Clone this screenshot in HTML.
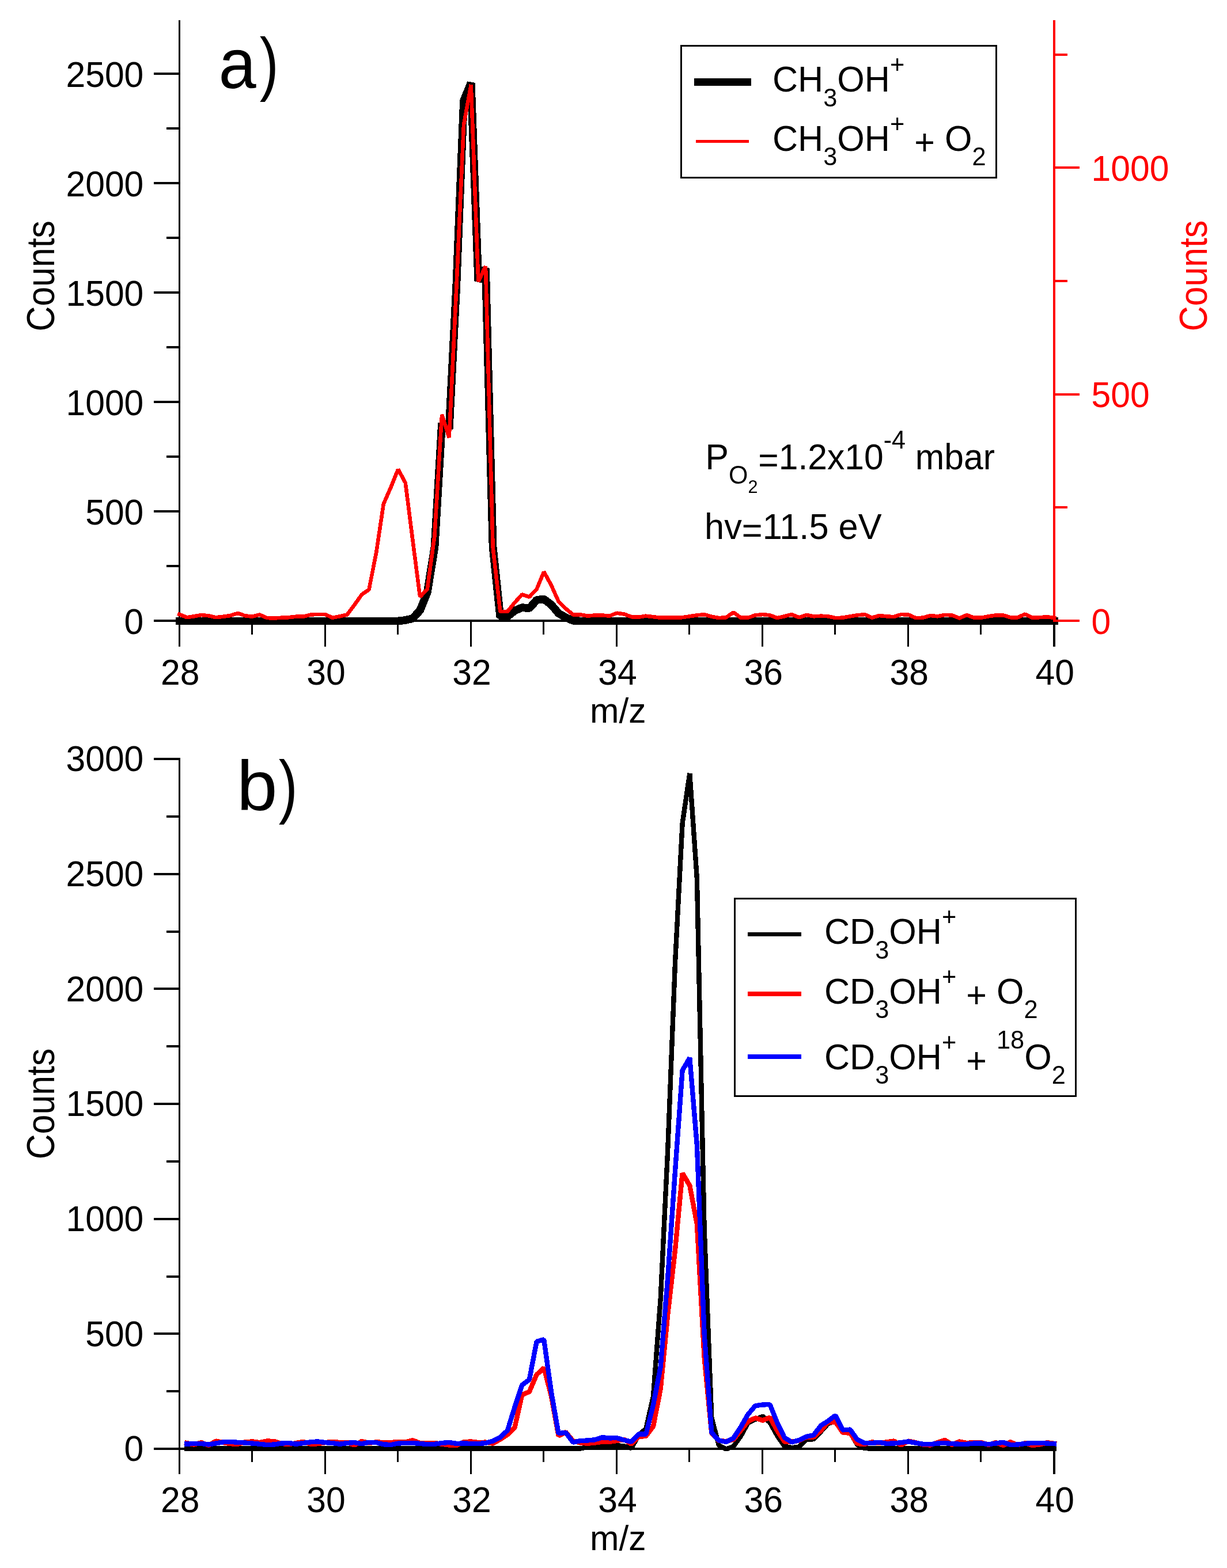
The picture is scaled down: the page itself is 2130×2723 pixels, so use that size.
<!DOCTYPE html>
<html lang="en">
<head>
<meta charset="utf-8">
<title>Mass spectra: methanol cation + O2</title>
<style>
html,body{margin:0;padding:0;background:#fff;}
body{width:2130px;height:2723px;overflow:hidden;}
svg{display:block;font-family:"Liberation Sans", Arial, Helvetica, sans-serif;}
</style>
</head>
<body>
<svg width="2130" height="2723" viewBox="0 0 2130 2723">
<rect x="0" y="0" width="2130" height="2723" fill="#ffffff"/>
<g shape-rendering="crispEdges">
<rect x="310" y="35" width="3" height="1088" fill="#000"/>
<rect x="312" y="1076" width="1518" height="4" fill="#000"/>
<rect x="267" y="1076" width="45" height="4" fill="#000"/>
<rect x="289" y="981" width="23" height="4" fill="#000"/>
<rect x="267" y="886" width="45" height="4" fill="#000"/>
<rect x="289" y="791" width="23" height="4" fill="#000"/>
<rect x="267" y="696" width="45" height="4" fill="#000"/>
<rect x="289" y="601" width="23" height="4" fill="#000"/>
<rect x="267" y="506" width="45" height="4" fill="#000"/>
<rect x="289" y="411" width="23" height="4" fill="#000"/>
<rect x="267" y="316" width="45" height="4" fill="#000"/>
<rect x="289" y="221" width="23" height="4" fill="#000"/>
<rect x="267" y="126" width="45" height="4" fill="#000"/>
<rect x="310" y="1078" width="3" height="45" fill="#000"/>
<rect x="436" y="1078" width="3" height="24" fill="#000"/>
<rect x="563" y="1078" width="3" height="45" fill="#000"/>
<rect x="689" y="1078" width="3" height="24" fill="#000"/>
<rect x="816" y="1078" width="3" height="45" fill="#000"/>
<rect x="942" y="1078" width="3" height="24" fill="#000"/>
<rect x="1069" y="1078" width="3" height="45" fill="#000"/>
<rect x="1195" y="1078" width="3" height="24" fill="#000"/>
<rect x="1322" y="1078" width="3" height="45" fill="#000"/>
<rect x="1448" y="1078" width="3" height="24" fill="#000"/>
<rect x="1575" y="1078" width="3" height="45" fill="#000"/>
<rect x="1701" y="1078" width="3" height="24" fill="#000"/>
<rect x="1828" y="1078" width="4" height="45" fill="#000"/>
<rect x="310" y="1316" width="3" height="1244" fill="#000"/>
<rect x="312" y="2514" width="1518" height="4" fill="#000"/>
<rect x="267" y="2514" width="45" height="4" fill="#000"/>
<rect x="289" y="2414" width="23" height="4" fill="#000"/>
<rect x="267" y="2314" width="45" height="4" fill="#000"/>
<rect x="289" y="2215" width="23" height="4" fill="#000"/>
<rect x="267" y="2115" width="45" height="4" fill="#000"/>
<rect x="289" y="2015" width="23" height="4" fill="#000"/>
<rect x="267" y="1915" width="45" height="4" fill="#000"/>
<rect x="289" y="1815" width="23" height="4" fill="#000"/>
<rect x="267" y="1715" width="45" height="4" fill="#000"/>
<rect x="289" y="1616" width="23" height="4" fill="#000"/>
<rect x="267" y="1516" width="45" height="4" fill="#000"/>
<rect x="289" y="1416" width="23" height="4" fill="#000"/>
<rect x="267" y="1316" width="45" height="4" fill="#000"/>
<rect x="310" y="2516" width="3" height="44" fill="#000"/>
<rect x="436" y="2516" width="3" height="23" fill="#000"/>
<rect x="563" y="2516" width="3" height="44" fill="#000"/>
<rect x="689" y="2516" width="3" height="23" fill="#000"/>
<rect x="816" y="2516" width="3" height="44" fill="#000"/>
<rect x="942" y="2516" width="3" height="23" fill="#000"/>
<rect x="1069" y="2516" width="3" height="44" fill="#000"/>
<rect x="1195" y="2516" width="3" height="23" fill="#000"/>
<rect x="1322" y="2516" width="3" height="44" fill="#000"/>
<rect x="1448" y="2516" width="3" height="23" fill="#000"/>
<rect x="1575" y="2516" width="3" height="44" fill="#000"/>
<rect x="1701" y="2516" width="3" height="23" fill="#000"/>
<rect x="1828" y="2516" width="4" height="44" fill="#000"/>
</g>
<text transform="translate(249.30,1100.50) scale(1,1.05)" font-size="60.60" text-anchor="end" fill="#000">0</text>
<text transform="translate(249.30,910.50) scale(1,1.05)" font-size="60.60" text-anchor="end" fill="#000">500</text>
<text transform="translate(249.30,720.50) scale(1,1.05)" font-size="60.60" text-anchor="end" fill="#000">1000</text>
<text transform="translate(249.30,530.50) scale(1,1.05)" font-size="60.60" text-anchor="end" fill="#000">1500</text>
<text transform="translate(249.30,340.50) scale(1,1.05)" font-size="60.60" text-anchor="end" fill="#000">2000</text>
<text transform="translate(249.30,150.50) scale(1,1.05)" font-size="60.60" text-anchor="end" fill="#000">2500</text>
<text transform="translate(312.80,1188.60) scale(1,1.05)" font-size="60.60" text-anchor="middle" fill="#000">28</text>
<text transform="translate(565.88,1188.60) scale(1,1.05)" font-size="60.60" text-anchor="middle" fill="#000">30</text>
<text transform="translate(818.97,1188.60) scale(1,1.05)" font-size="60.60" text-anchor="middle" fill="#000">32</text>
<text transform="translate(1072.05,1188.60) scale(1,1.05)" font-size="60.60" text-anchor="middle" fill="#000">34</text>
<text transform="translate(1325.13,1188.60) scale(1,1.05)" font-size="60.60" text-anchor="middle" fill="#000">36</text>
<text transform="translate(1578.22,1188.60) scale(1,1.05)" font-size="60.60" text-anchor="middle" fill="#000">38</text>
<text transform="translate(1831.30,1188.60) scale(1,1.05)" font-size="60.60" text-anchor="middle" fill="#000">40</text>
<text transform="translate(1072.80,1255.40) scale(1,1.02)" font-size="60.60" text-anchor="middle" fill="#000">m/z</text>
<text transform="translate(94.00,479.30) rotate(-90) scale(1,1.12)" font-size="60.80" text-anchor="middle" fill="#000">Counts</text>
<polyline points="311.5,1078.5 324.2,1078.5 336.8,1078.5 349.5,1078.5 362.1,1078.5 374.8,1078.5 387.4,1078.5 400.1,1078.5 412.7,1078.5 425.4,1078.5 438.0,1078.5 450.7,1078.5 463.3,1078.5 476.0,1078.5 488.7,1078.5 501.3,1078.5 514.0,1078.5 526.6,1078.5 539.3,1078.5 551.9,1078.5 564.6,1078.5 577.2,1078.5 589.9,1078.5 602.5,1078.5 615.2,1078.5 627.9,1078.5 640.5,1078.5 653.2,1078.5 665.8,1078.5 678.5,1078.5 691.1,1078.5 703.8,1077.0 716.4,1074.0 729.1,1060.0 741.7,1029.0 754.4,951.0 767.1,735.0 779.7,745.0 792.4,494.0 805.0,175.0 817.7,144.0 830.3,488.0 843.0,466.0 855.6,950.0 868.3,1071.0 880.9,1070.6 893.6,1060.5 906.2,1055.0 918.9,1056.4 931.6,1042.0 944.2,1040.5 956.9,1050.0 969.5,1065.0 982.2,1072.4 994.8,1077.7 1007.5,1078.5 1020.1,1078.5 1032.8,1078.5 1045.4,1078.5 1058.1,1078.5 1070.8,1078.5 1083.4,1078.5 1096.1,1078.5 1108.7,1078.5 1121.4,1078.5 1134.0,1078.5 1146.7,1078.5 1159.3,1078.5 1172.0,1078.5 1184.6,1078.5 1197.3,1078.5 1209.9,1078.5 1222.6,1078.5 1235.3,1078.5 1247.9,1078.5 1260.6,1078.5 1273.2,1078.5 1285.9,1078.5 1298.5,1078.5 1311.2,1078.5 1323.8,1078.5 1336.5,1078.5 1349.1,1078.5 1361.8,1078.5 1374.4,1078.5 1387.1,1078.5 1399.8,1078.5 1412.4,1078.5 1425.1,1078.5 1437.7,1078.5 1450.4,1078.5 1463.0,1078.5 1475.7,1078.5 1488.3,1078.5 1501.0,1078.5 1513.6,1078.5 1526.3,1078.5 1539.0,1078.5 1551.6,1078.5 1564.3,1078.5 1576.9,1078.5 1589.6,1078.5 1602.2,1078.5 1614.9,1078.5 1627.5,1078.5 1640.2,1078.5 1652.8,1078.5 1665.5,1078.5 1678.1,1078.5 1690.8,1078.5 1703.5,1078.5 1716.1,1078.5 1728.8,1078.5 1741.4,1078.5 1754.1,1078.5 1766.7,1078.5 1779.4,1078.5 1792.0,1078.5 1804.7,1078.5 1817.3,1078.5 1830.0,1078.5" fill="none" stroke="#000" stroke-width="13.8" stroke-linecap="square" stroke-linejoin="bevel" shape-rendering="crispEdges"/>
<polyline points="311.5,1066.9 324.2,1072.2 336.8,1070.3 349.5,1068.0 362.1,1069.3 374.8,1072.2 387.4,1070.8 400.1,1069.0 412.7,1065.0 425.4,1069.3 438.0,1070.7 450.7,1067.5 463.3,1073.1 476.0,1073.5 488.7,1072.7 501.3,1072.2 514.0,1070.7 526.6,1070.8 539.3,1067.5 551.9,1066.9 564.6,1067.1 577.2,1072.7 589.9,1070.3 602.5,1067.5 615.2,1050.6 627.9,1032.6 640.5,1023.8 653.2,959.6 665.8,875.2 678.5,846.2 691.1,815.0 703.8,838.5 716.4,938.0 729.1,1036.4 741.7,1023.3 754.4,931.0 767.1,720.0 779.7,760.0 792.4,498.0 805.0,217.0 817.7,147.0 830.3,489.0 843.0,462.5 855.6,950.0 868.3,1062.0 880.9,1062.0 893.6,1046.4 906.2,1032.4 918.9,1036.6 931.6,1023.2 944.2,993.0 956.9,1016.2 969.5,1044.3 982.2,1057.0 994.8,1067.5 1007.5,1067.5 1020.1,1069.6 1032.8,1068.5 1045.4,1068.5 1058.1,1069.6 1070.8,1064.7 1083.4,1066.5 1096.1,1071.2 1108.7,1071.6 1121.4,1069.7 1134.0,1071.2 1146.7,1072.7 1159.3,1072.7 1172.0,1072.7 1184.6,1072.2 1197.3,1070.3 1209.9,1068.4 1222.6,1067.1 1235.3,1070.8 1247.9,1073.1 1260.6,1072.2 1273.2,1063.3 1285.9,1072.7 1298.5,1072.7 1311.2,1068.4 1323.8,1067.1 1336.5,1068.4 1349.1,1073.1 1361.8,1070.3 1374.4,1067.1 1387.1,1072.2 1399.8,1068.0 1412.4,1070.3 1425.1,1069.7 1437.7,1070.3 1450.4,1073.1 1463.0,1072.7 1475.7,1070.3 1488.3,1068.4 1501.0,1067.1 1513.6,1072.7 1526.3,1069.0 1539.0,1070.3 1551.6,1071.2 1564.3,1067.1 1576.9,1067.5 1589.6,1073.1 1602.2,1072.7 1614.9,1069.0 1627.5,1070.3 1640.2,1068.0 1652.8,1068.4 1665.5,1073.5 1678.1,1068.0 1690.8,1072.7 1703.5,1072.7 1716.1,1070.3 1728.8,1068.4 1741.4,1068.4 1754.1,1072.2 1766.7,1072.2 1779.4,1066.5 1792.0,1072.7 1804.7,1072.2 1817.3,1071.2 1830.0,1073.1" fill="none" stroke="#ff0000" stroke-width="6.6" stroke-linecap="square" stroke-linejoin="bevel" shape-rendering="crispEdges"/>
<g shape-rendering="crispEdges">
<rect x="1828" y="35" width="4" height="1045" fill="#ff0000"/>
<rect x="1830" y="1076" width="44" height="4" fill="#ff0000"/>
<rect x="1830" y="879" width="23" height="4" fill="#ff0000"/>
<rect x="1830" y="683" width="44" height="4" fill="#ff0000"/>
<rect x="1830" y="486" width="23" height="4" fill="#ff0000"/>
<rect x="1830" y="289" width="44" height="4" fill="#ff0000"/>
<rect x="1830" y="93" width="23" height="4" fill="#ff0000"/>
</g>
<text transform="translate(1894.60,1100.50) scale(1,1.05)" font-size="60.60" text-anchor="start" fill="#ff0000">0</text>
<text transform="translate(1894.60,707.12) scale(1,1.05)" font-size="60.60" text-anchor="start" fill="#ff0000">500</text>
<text transform="translate(1894.60,313.75) scale(1,1.05)" font-size="60.60" text-anchor="start" fill="#ff0000">1000</text>
<text transform="translate(2095.00,479.00) rotate(-90) scale(1,1.12)" font-size="60.80" text-anchor="middle" fill="#ff0000">Counts</text>
<text transform="translate(379.60,152.50) scale(0.96,1)" font-size="122.00" text-anchor="start" fill="#000">a</text>
<text transform="translate(450.70,152.00) scale(0.81,1)" font-size="122.00" text-anchor="start" fill="#000">)</text>
<g shape-rendering="crispEdges">
<rect x="1182.5" y="79.5" width="547" height="228.5" fill="#fff" stroke="#000" stroke-width="3"/>
<rect x="1205" y="136" width="99" height="13" fill="#000"/>
<rect x="1208" y="243" width="92" height="5" fill="#ff0000"/>
</g>
<text transform="translate(1341.00,159.40) scale(1.008,1.05)" font-size="60.60" fill="#000"><tspan font-size="60.60" dy="0.00">CH</tspan><tspan font-size="43.03" dy="24.24">3</tspan><tspan font-size="60.60" dy="-24.24">OH</tspan><tspan font-size="43.03" dy="-30.91">+</tspan></text>
<text transform="translate(1341.00,262.00) scale(1.008,1.05)" font-size="60.60" fill="#000"><tspan font-size="60.60" dy="0.00">CH</tspan><tspan font-size="43.03" dy="24.24">3</tspan><tspan font-size="60.60" dy="-24.24">OH</tspan><tspan font-size="43.03" dy="-30.91">+</tspan><tspan font-size="60.60" dy="30.91"> </tspan><tspan font-size="60.60" dy="7.00">+</tspan><tspan font-size="60.60" dy="-7.00"> O</tspan><tspan font-size="43.03" dy="24.24">2</tspan></text>
<text transform="translate(1224.50,814.60) scale(1,1.05)" font-size="60.60" fill="#000"><tspan font-size="60.60" dy="0.00">P</tspan><tspan font-size="43.03" dy="24.24">O</tspan><tspan font-size="30.55" dy="15.21">2</tspan><tspan font-size="60.60" dy="-32.95" dx="1.00">=</tspan><tspan font-size="60.60" dy="-6.50">1.2x10</tspan><tspan font-size="43.03" dy="-33.91">-4</tspan><tspan font-size="60.60" dy="33.91"> mbar</tspan></text>
<text transform="translate(1223.00,936.20) scale(1.013,1.05)" font-size="60.60" fill="#000"><tspan font-size="60.60" dy="0.00">hv</tspan><tspan font-size="60.60" dy="6.50">=</tspan><tspan font-size="60.60" dy="-6.50">11.5 eV</tspan></text>
<text transform="translate(249.30,2537.20) scale(1,1.05)" font-size="60.60" text-anchor="end" fill="#000">0</text>
<text transform="translate(249.30,2337.53) scale(1,1.05)" font-size="60.60" text-anchor="end" fill="#000">500</text>
<text transform="translate(249.30,2137.87) scale(1,1.05)" font-size="60.60" text-anchor="end" fill="#000">1000</text>
<text transform="translate(249.30,1938.21) scale(1,1.05)" font-size="60.60" text-anchor="end" fill="#000">1500</text>
<text transform="translate(249.30,1738.54) scale(1,1.05)" font-size="60.60" text-anchor="end" fill="#000">2000</text>
<text transform="translate(249.30,1538.88) scale(1,1.05)" font-size="60.60" text-anchor="end" fill="#000">2500</text>
<text transform="translate(249.30,1339.21) scale(1,1.05)" font-size="60.60" text-anchor="end" fill="#000">3000</text>
<text transform="translate(312.80,2626.00) scale(1,1.05)" font-size="60.60" text-anchor="middle" fill="#000">28</text>
<text transform="translate(565.88,2626.00) scale(1,1.05)" font-size="60.60" text-anchor="middle" fill="#000">30</text>
<text transform="translate(818.97,2626.00) scale(1,1.05)" font-size="60.60" text-anchor="middle" fill="#000">32</text>
<text transform="translate(1072.05,2626.00) scale(1,1.05)" font-size="60.60" text-anchor="middle" fill="#000">34</text>
<text transform="translate(1325.13,2626.00) scale(1,1.05)" font-size="60.60" text-anchor="middle" fill="#000">36</text>
<text transform="translate(1578.22,2626.00) scale(1,1.05)" font-size="60.60" text-anchor="middle" fill="#000">38</text>
<text transform="translate(1831.30,2626.00) scale(1,1.05)" font-size="60.60" text-anchor="middle" fill="#000">40</text>
<text transform="translate(1072.80,2692.00) scale(1,1.02)" font-size="60.60" text-anchor="middle" fill="#000">m/z</text>
<text transform="translate(94.00,1917.00) rotate(-90) scale(1,1.12)" font-size="60.80" text-anchor="middle" fill="#000">Counts</text>
<polyline points="324.2,2515.6 336.8,2515.6 349.5,2515.6 362.1,2515.6 374.8,2515.6 387.4,2515.6 400.1,2515.6 412.7,2515.6 425.4,2515.6 438.0,2515.6 450.7,2515.6 463.4,2515.6 476.0,2515.6 488.7,2515.6 501.3,2515.6 514.0,2515.6 526.6,2515.6 539.3,2515.6 551.9,2515.6 564.6,2515.6 577.2,2515.6 589.9,2515.6 602.5,2515.6 615.2,2515.6 627.9,2515.6 640.5,2515.6 653.2,2515.6 665.8,2515.6 678.5,2515.6 691.1,2515.6 703.8,2515.6 716.4,2515.6 729.1,2515.6 741.7,2515.6 754.4,2515.6 767.1,2515.6 779.7,2515.6 792.4,2515.6 805.0,2515.6 817.7,2515.6 830.3,2515.6 843.0,2515.6 855.6,2515.6 868.3,2515.6 880.9,2515.6 893.6,2515.6 906.2,2515.6 918.9,2515.6 931.6,2515.6 944.2,2515.6 956.9,2515.6 969.5,2515.6 982.2,2515.6 994.8,2515.6 1007.5,2515.5 1020.1,2513.2 1032.8,2512.0 1045.4,2512.0 1058.1,2511.4 1070.8,2510.0 1083.4,2511.4 1096.1,2515.0 1108.7,2492.0 1121.4,2481.0 1134.0,2425.0 1146.7,2255.0 1159.3,1995.0 1172.0,1672.0 1184.6,1430.0 1197.3,1343.0 1209.9,1526.0 1222.6,2133.0 1235.3,2462.0 1247.9,2510.0 1260.6,2516.5 1273.2,2512.0 1285.9,2494.0 1298.5,2471.0 1311.2,2465.0 1323.8,2459.7 1336.5,2470.3 1349.1,2493.1 1361.8,2511.5 1374.5,2514.2 1387.1,2512.4 1399.8,2500.1 1412.4,2499.2 1425.1,2486.1 1437.7,2472.0 1450.4,2468.5 1463.0,2486.1 1475.7,2487.8 1488.3,2508.9 1501.0,2515.1 1513.6,2515.6 1526.3,2515.6 1539.0,2515.6 1551.6,2515.6 1564.3,2515.6 1576.9,2515.6 1589.6,2515.6 1602.2,2515.6 1614.9,2515.6 1627.5,2515.6 1640.2,2515.6 1652.8,2515.6 1665.5,2515.6 1678.2,2515.6 1690.8,2515.6 1703.5,2515.6 1716.1,2515.6 1728.8,2515.6 1741.4,2515.6 1754.1,2515.6 1766.7,2515.6 1779.4,2515.6 1792.0,2515.6 1804.7,2515.6 1817.3,2515.6 1830.0,2515.6" fill="none" stroke="#000" stroke-width="8.4" stroke-linecap="square" stroke-linejoin="bevel" shape-rendering="crispEdges"/>
<polyline points="324.2,2506.0 336.8,2508.6 349.5,2505.1 362.1,2510.0 374.8,2502.5 387.4,2505.1 400.1,2507.2 412.7,2507.8 425.4,2504.3 438.0,2503.4 450.7,2505.1 463.4,2502.5 476.0,2503.0 488.7,2506.9 501.3,2508.3 514.0,2506.0 526.6,2503.7 539.3,2507.8 551.9,2507.2 564.6,2505.1 577.2,2503.7 589.9,2505.1 602.5,2504.8 615.2,2509.5 627.9,2503.0 640.5,2506.0 653.2,2504.3 665.8,2505.1 678.5,2505.1 691.1,2503.7 703.8,2504.3 716.4,2501.3 729.1,2506.0 741.7,2506.0 754.4,2506.0 767.1,2507.8 779.7,2509.5 792.4,2510.0 805.0,2504.3 817.7,2503.4 830.3,2505.1 843.0,2504.6 855.6,2506.7 868.3,2499.7 880.9,2491.3 893.6,2478.6 906.2,2422.4 918.9,2416.8 931.6,2387.3 944.2,2375.3 956.9,2423.8 969.5,2493.4 982.2,2487.0 994.8,2502.5 1007.5,2505.6 1020.1,2506.7 1032.8,2505.6 1045.4,2503.8 1058.1,2503.8 1070.8,2502.1 1083.4,2499.7 1096.1,2507.9 1108.7,2495.0 1121.4,2493.9 1134.0,2477.0 1146.7,2412.0 1159.3,2282.0 1172.0,2171.0 1184.6,2037.4 1197.3,2058.7 1209.9,2126.0 1222.6,2357.0 1235.3,2489.0 1247.9,2502.0 1260.6,2503.0 1273.2,2500.0 1285.9,2484.3 1298.5,2468.5 1311.2,2462.4 1323.8,2466.7 1336.5,2461.5 1349.1,2484.3 1361.8,2503.6 1374.5,2503.6 1387.1,2501.9 1399.8,2495.7 1412.4,2495.7 1425.1,2484.3 1437.7,2469.4 1450.4,2469.4 1463.0,2487.8 1475.7,2488.7 1488.3,2507.1 1501.0,2508.0 1513.6,2504.3 1526.3,2506.0 1539.0,2504.3 1551.6,2502.5 1564.3,2509.5 1576.9,2502.5 1589.6,2505.1 1602.2,2508.6 1614.9,2509.5 1627.5,2505.1 1640.2,2500.7 1652.8,2509.0 1665.5,2503.4 1678.2,2506.0 1690.8,2505.1 1703.5,2505.1 1716.1,2509.0 1728.8,2505.1 1741.4,2509.9 1754.1,2504.3 1766.7,2509.3 1779.4,2506.2 1792.0,2509.9 1804.7,2508.6 1817.3,2505.1 1830.0,2506.9" fill="none" stroke="#ff0000" stroke-width="8.4" stroke-linecap="square" stroke-linejoin="bevel" shape-rendering="crispEdges"/>
<polyline points="324.2,2507.4 336.8,2507.2 349.5,2506.9 362.1,2508.6 374.8,2506.5 387.4,2504.3 400.1,2503.9 412.7,2504.8 425.4,2505.5 438.0,2506.5 450.7,2507.8 463.4,2509.0 476.0,2508.6 488.7,2506.5 501.3,2506.0 514.0,2507.8 526.6,2506.0 539.3,2504.3 551.9,2503.4 564.6,2505.1 577.2,2506.0 589.9,2507.8 602.5,2506.0 615.2,2505.1 627.9,2507.2 640.5,2504.8 653.2,2505.1 665.8,2508.3 678.5,2509.0 691.1,2506.5 703.8,2506.0 716.4,2506.0 729.1,2506.9 741.7,2508.3 754.4,2507.8 767.1,2506.0 779.7,2504.8 792.4,2506.9 805.0,2506.5 817.7,2506.9 830.3,2507.2 843.0,2506.0 855.6,2502.5 868.3,2496.2 880.9,2484.2 893.6,2443.5 906.2,2405.5 918.9,2395.7 931.6,2329.7 944.2,2326.2 956.9,2416.8 969.5,2489.2 982.2,2487.8 994.8,2504.6 1007.5,2502.1 1020.1,2501.5 1032.8,2500.3 1045.4,2496.2 1058.1,2497.4 1070.8,2497.1 1083.4,2500.9 1096.1,2503.8 1108.7,2490.4 1121.4,2490.4 1134.0,2440.0 1146.7,2373.8 1159.3,2217.0 1172.0,2034.0 1184.6,1859.0 1197.3,1837.0 1209.9,1988.7 1222.6,2316.0 1235.3,2488.0 1247.9,2501.5 1260.6,2504.0 1273.2,2497.5 1285.9,2478.2 1298.5,2456.2 1311.2,2441.3 1323.8,2439.5 1336.5,2439.0 1349.1,2470.3 1361.8,2496.6 1374.5,2504.5 1387.1,2501.0 1399.8,2494.9 1412.4,2492.2 1425.1,2475.5 1437.7,2467.6 1450.4,2458.0 1463.0,2483.4 1475.7,2482.6 1488.3,2500.1 1501.0,2506.3 1513.6,2506.0 1526.3,2504.8 1539.0,2506.9 1551.6,2506.5 1564.3,2505.1 1576.9,2503.4 1589.6,2505.7 1602.2,2507.8 1614.9,2508.3 1627.5,2506.5 1640.2,2506.0 1652.8,2507.2 1665.5,2507.8 1678.2,2507.8 1690.8,2506.5 1703.5,2506.5 1716.1,2508.3 1728.8,2506.5 1741.4,2504.8 1754.1,2509.0 1766.7,2508.6 1779.4,2506.9 1792.0,2506.0 1804.7,2505.7 1817.3,2506.5 1830.0,2507.2" fill="none" stroke="#0000ff" stroke-width="8.4" stroke-linecap="square" stroke-linejoin="bevel" shape-rendering="crispEdges"/>
<text transform="translate(411.00,1406.50) scale(1.04,1)" font-size="122.00" text-anchor="start" fill="#000">b</text>
<text transform="translate(483.70,1406.50) scale(0.81,1)" font-size="122.00" text-anchor="start" fill="#000">)</text>
<g shape-rendering="crispEdges">
<rect x="1275.5" y="1560.5" width="592" height="343" fill="#fff" stroke="#000" stroke-width="3"/>
<rect x="1298" y="1619" width="93" height="7" fill="#000"/>
<rect x="1298" y="1722" width="93" height="8" fill="#ff0000"/>
<rect x="1298" y="1831" width="93" height="8" fill="#0000ff"/>
</g>
<text transform="translate(1431.00,1639.30) scale(1.008,1.05)" font-size="60.60" fill="#000"><tspan font-size="60.60" dy="0.00">CD</tspan><tspan font-size="43.03" dy="24.24">3</tspan><tspan font-size="60.60" dy="-24.24">OH</tspan><tspan font-size="43.03" dy="-30.91">+</tspan></text>
<text transform="translate(1431.00,1743.00) scale(1.008,1.05)" font-size="60.60" fill="#000"><tspan font-size="60.60" dy="0.00">CD</tspan><tspan font-size="43.03" dy="24.24">3</tspan><tspan font-size="60.60" dy="-24.24">OH</tspan><tspan font-size="43.03" dy="-30.91">+</tspan><tspan font-size="60.60" dy="30.91"> </tspan><tspan font-size="60.60" dy="7.00">+</tspan><tspan font-size="60.60" dy="-7.00"> O</tspan><tspan font-size="43.03" dy="24.24">2</tspan></text>
<text transform="translate(1431.00,1857.00) scale(1.008,1.05)" font-size="60.60" fill="#000"><tspan font-size="60.60" dy="0.00">CD</tspan><tspan font-size="43.03" dy="24.24">3</tspan><tspan font-size="60.60" dy="-24.24">OH</tspan><tspan font-size="43.03" dy="-30.91">+</tspan><tspan font-size="60.60" dy="30.91"> </tspan><tspan font-size="60.60" dy="7.00">+</tspan><tspan font-size="60.60" dy="-7.00"> </tspan><tspan font-size="43.03" dy="-33.91">18</tspan><tspan font-size="60.60" dy="33.91">O</tspan><tspan font-size="43.03" dy="24.24">2</tspan></text>
</svg>
</body>
</html>
